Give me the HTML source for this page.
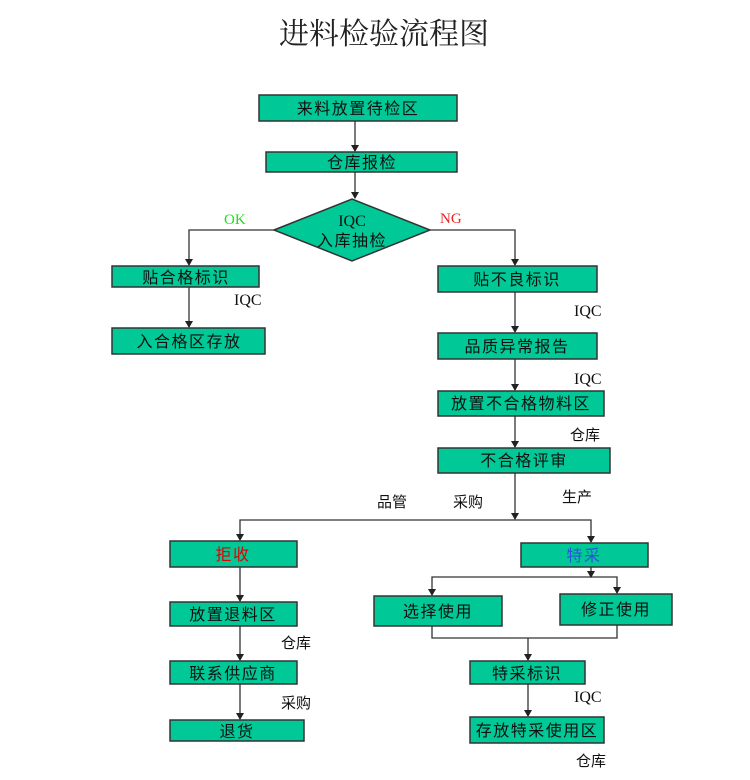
<!DOCTYPE html>
<html><head><meta charset="utf-8"><style>
html,body{margin:0;padding:0;background:#fff;}
svg{display:block;}
text{font-family:"Liberation Sans","Noto Sans CJK SC",sans-serif;}
.b{fill:#00C896;stroke:#333;stroke-width:1.5;}
.l{stroke:#333;stroke-width:1.3;fill:none;}
.t{font-size:16px;fill:#111;text-anchor:middle;letter-spacing:1.5px;}
.n{font-size:15px;fill:#111;}
.q{font-family:"Liberation Serif",serif;font-size:16px;fill:#111;}
</style></head><body>
<svg width="750" height="780" viewBox="0 0 750 780" xmlns="http://www.w3.org/2000/svg">
<text x="384" y="44" style="font-family:'Liberation Serif','Noto Serif CJK SC',serif;font-size:30px;fill:#222;" text-anchor="middle">进料检验流程图</text>

<g class="l">
<line x1="355" y1="121" x2="355" y2="151"/>
<line x1="355" y1="172" x2="355" y2="198"/>
<polyline points="274,230 189,230 189,265"/>
<polyline points="430,230 515,230 515,265"/>
<line x1="189" y1="287" x2="189" y2="327"/>
<line x1="515" y1="292" x2="515" y2="332"/>
<line x1="515" y1="359" x2="515" y2="390"/>
<line x1="515" y1="416" x2="515" y2="447"/>
<line x1="515" y1="473" x2="515" y2="519"/>
<polyline points="240,540 240,520 591,520 591,542"/>
<line x1="591" y1="567" x2="591" y2="577"/>
<polyline points="432,595 432,577 617,577 617,593"/>
<polyline points="432,626 432,638 617,638 617,625"/>
<line x1="528" y1="638" x2="528" y2="660"/>
<line x1="528" y1="684" x2="528" y2="716"/>
<line x1="240" y1="567" x2="240" y2="601"/>
<line x1="240" y1="626" x2="240" y2="660"/>
<line x1="240" y1="684" x2="240" y2="719"/>
</g>
<g fill="#222">
<path d="M351,145 L359,145 L355,152 z"/>
<path d="M351,192 L359,192 L355,199 z"/>
<path d="M185,259 L193,259 L189,266 z"/>
<path d="M511,259 L519,259 L515,266 z"/>
<path d="M185,321 L193,321 L189,328 z"/>
<path d="M511,326 L519,326 L515,333 z"/>
<path d="M511,384 L519,384 L515,391 z"/>
<path d="M511,441 L519,441 L515,448 z"/>
<path d="M511,513 L519,513 L515,520 z"/>
<path d="M236,534 L244,534 L240,541 z"/>
<path d="M587,536 L595,536 L591,543 z"/>
<path d="M587,571 L595,571 L591,578 z"/>
<path d="M428,589 L436,589 L432,596 z"/>
<path d="M613,587 L621,587 L617,594 z"/>
<path d="M524,654 L532,654 L528,661 z"/>
<path d="M524,710 L532,710 L528,717 z"/>
<path d="M236,595 L244,595 L240,602 z"/>
<path d="M236,654 L244,654 L240,661 z"/>
<path d="M236,713 L244,713 L240,720 z"/>
</g>

<g>
<rect class="b" x="259" y="95" width="198" height="26"/>
<rect class="b" x="266" y="152" width="191" height="20"/>
<polygon class="b" points="274,230 352,199 430,230 352,261"/>
<rect class="b" x="112" y="266" width="147" height="21"/>
<rect class="b" x="112" y="328" width="153" height="26"/>
<rect class="b" x="438" y="266" width="159" height="26"/>
<rect class="b" x="438" y="333" width="159" height="26"/>
<rect class="b" x="438" y="391" width="166" height="25"/>
<rect class="b" x="438" y="448" width="172" height="25"/>
<rect class="b" x="170" y="541" width="127" height="26"/>
<rect class="b" x="521" y="543" width="127" height="24"/>
<rect class="b" x="374" y="596" width="128" height="30"/>
<rect class="b" x="560" y="594" width="112" height="31"/>
<rect class="b" x="470" y="661" width="115" height="23"/>
<rect class="b" x="470" y="717" width="134" height="26"/>
<rect class="b" x="170" y="602" width="127" height="24"/>
<rect class="b" x="170" y="661" width="127" height="23"/>
<rect class="b" x="170" y="720" width="134" height="21"/>
</g>

<g class="t">
<text x="358" y="114">来料放置待检区</text>
<text x="362" y="168">仓库报检</text>
<text x="352" y="226" style="font-family:'Liberation Serif',serif;font-size:16px;letter-spacing:0">IQC</text>
<text x="352" y="246">入库抽检</text>
<text x="186" y="283">贴合格标识</text>
<text x="189" y="347">入合格区存放</text>
<text x="517" y="285">贴不良标识</text>
<text x="517" y="352">品质异常报告</text>
<text x="521" y="409">放置不合格物料区</text>
<text x="524" y="466">不合格评审</text>
<text x="233" y="560" style="fill:#e00000">拒收</text>
<text x="584" y="561" style="fill:#3050e0">特采</text>
<text x="438" y="617">选择使用</text>
<text x="616" y="615">修正使用</text>
<text x="527" y="679">特采标识</text>
<text x="537" y="736">存放特采使用区</text>
<text x="233" y="620">放置退料区</text>
<text x="233" y="679">联系供应商</text>
<text x="237" y="737">退货</text>
</g>

<text x="224" y="224" style="font-family:'Liberation Serif',serif;font-size:15px;fill:#22dd22">OK</text>
<text x="440" y="223" style="font-family:'Liberation Serif',serif;font-size:15px;fill:#ee2222">NG</text>
<text class="q" x="234" y="305">IQC</text>
<text class="q" x="574" y="316">IQC</text>
<text class="q" x="574" y="384">IQC</text>
<text class="q" x="574" y="702">IQC</text>
<text class="n" x="570" y="440">仓库</text>
<text class="n" x="377" y="507">品管</text>
<text class="n" x="453" y="507">采购</text>
<text class="n" x="562" y="502">生产</text>
<text class="n" x="281" y="648">仓库</text>
<text class="n" x="281" y="708">采购</text>
<text class="n" x="576" y="766">仓库</text>
</svg>
</body></html>
